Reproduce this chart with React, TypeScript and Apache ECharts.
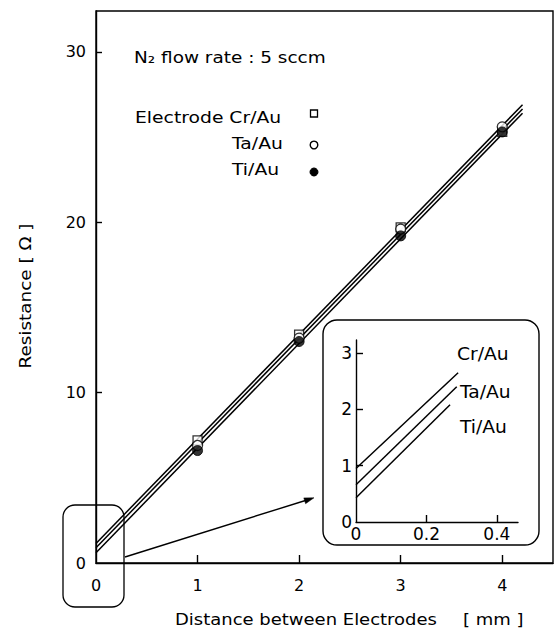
import React, { useEffect, useRef } from "react";
import * as echarts from "echarts";

const FONT = "DejaVu Sans";

// main axes
const mainXLabels = [0, 1, 2, 3, 4];
const mainXTicks = [1, 2, 3, 4];
const mainYLabels = [0, 10, 20, 30];
const mainYTicks = [10, 20, 30];

// inset axes
const insetXLabels = [0, 0.2, 0.4];
const insetXTicks = [0.2, 0.4];
const insetYLabels = [0, 1, 2, 3];
const insetYTicks = [1, 2, 3];

// measured points
const distances = [1, 2, 3, 4];
const crAu = [7.2, 13.4, 19.7, 25.3];
const taAu = [6.9, 13.2, 19.6, 25.6];
const tiAu = [6.6, 13.0, 19.2, 25.3];

// fitted lines (main)
const fitX = [0, 4.2];
const crFit = [1.15, 26.9];
const taFit = [0.9, 26.65];
const tiFit = [0.6, 26.4];

// fitted lines (inset, zoom near origin)
const insetCrX = [0, 0.29];
const insetCrY = [0.95, 2.65];
const insetTaX = [0, 0.286];
const insetTaY = [0.66, 2.4];
const insetTiX = [0, 0.267];
const insetTiY = [0.43, 2.08];

const zip = (xs: number[], ys: number[]) => xs.map((x, i) => [x, ys[i]]);

const txt = (
  text: string,
  x: number,
  y: number,
  size: number,
  sx: number,
  align = "left",
  rotation = 0
) => ({
  type: "text",
  x,
  y,
  scaleX: sx,
  rotation,
  silent: true,
  style: {
    text,
    fontSize: size,
    fontFamily: FONT,
    fill: "#000",
    align,
    textAlign: align,
    verticalAlign: "middle",
    textVerticalAlign: "middle",
  },
});

export default function App() {
  const ref = useRef<HTMLDivElement>(null);
  useEffect(() => {
    if (!ref.current) return;
    const chart = echarts.init(ref.current, undefined, { renderer: "svg" });
    const axisLine = { lineStyle: { color: "#000", width: 1.4 } };
    const lineStyle = { color: "#000", width: 1.5 };
    const fitSeries = (data: number[][], xi: number, name: string) => ({
      type: "line",
      name,
      xAxisIndex: xi,
      yAxisIndex: xi,
      data,
      symbol: "none",
      showSymbol: false,
      silent: true,
      lineStyle,
      z: 2,
    });
    const option: any = {
      animation: false,
      backgroundColor: "#fff",
      grid: [
        {
          left: 96,
          right: 2,
          top: 11,
          bottom: 70,
          show: true,
          borderColor: "#000",
          borderWidth: 1.4,
          backgroundColor: "transparent",
        },
        { left: 356, right: 37, top: 340, bottom: 111, show: false },
      ],
      xAxis: [
        {
          type: "value",
          gridIndex: 0,
          min: 0,
          max: 4.5,
          interval: 1,
          axisLine,
          splitLine: { show: false },
          axisTick: {
            inside: true,
            length: 8,
            customValues: mainXTicks,
            lineStyle: { color: "#000", width: 1.4 },
          },
          axisLabel: {
            customValues: mainXLabels,
            margin: 14,
            fontSize: 16,
            fontFamily: FONT,
            color: "#000",
          },
        },
        {
          type: "value",
          gridIndex: 1,
          min: 0,
          max: 0.46,
          interval: 0.2,
          axisLine,
          splitLine: { show: false },
          axisTick: {
            inside: true,
            length: 7,
            customValues: insetXTicks,
            lineStyle: { color: "#000", width: 1.4 },
          },
          axisLabel: {
            customValues: insetXLabels,
            margin: 3,
            fontSize: 17,
            fontFamily: FONT,
            color: "#000",
          },
        },
      ],
      yAxis: [
        {
          type: "value",
          gridIndex: 0,
          min: 0,
          max: 32.4,
          interval: 10,
          axisLine: { show: true, ...axisLine },
          splitLine: { show: false },
          axisTick: {
            show: true,
            inside: true,
            length: 6,
            customValues: mainYTicks,
            lineStyle: { color: "#000", width: 1.4 },
          },
          axisLabel: {
            customValues: mainYLabels,
            margin: 10,
            fontSize: 16,
            fontFamily: FONT,
            color: "#000",
          },
        },
        {
          type: "value",
          gridIndex: 1,
          min: 0,
          max: 3.23,
          interval: 1,
          axisLine: { show: true, ...axisLine },
          splitLine: { show: false },
          axisTick: {
            show: true,
            inside: true,
            length: 7,
            customValues: insetYTicks,
            lineStyle: { color: "#000", width: 1.4 },
          },
          axisLabel: {
            customValues: insetYLabels,
            margin: 4,
            fontSize: 17,
            fontFamily: FONT,
            color: "#000",
          },
        },
      ],
      series: [
        fitSeries(zip(fitX, crFit), 0, "Cr/Au fit"),
        fitSeries(zip(fitX, taFit), 0, "Ta/Au fit"),
        fitSeries(zip(fitX, tiFit), 0, "Ti/Au fit"),
        {
          type: "scatter",
          name: "Cr/Au",
          data: zip(distances, crAu),
          symbol: "rect",
          symbolSize: 9,
          itemStyle: { color: "#fff", borderColor: "#000", borderWidth: 1.3 },
          z: 3,
        },
        {
          type: "scatter",
          name: "Ta/Au",
          data: zip(distances, taAu),
          symbol: "circle",
          symbolSize: 10,
          itemStyle: { color: "#fff", borderColor: "#000", borderWidth: 1.3 },
          z: 4,
        },
        {
          type: "scatter",
          name: "Ti/Au",
          data: zip(distances, tiAu),
          symbol: "circle",
          symbolSize: 10,
          itemStyle: { color: "#000", borderColor: "#000", borderWidth: 1 },
          z: 5,
        },
        fitSeries(zip(insetCrX, insetCrY), 1, "Cr/Au inset"),
        fitSeries(zip(insetTaX, insetTaY), 1, "Ta/Au inset"),
        fitSeries(zip(insetTiX, insetTiY), 1, "Ti/Au inset"),
      ],
      graphic: [
        txt("N₂ flow rate : 5 sccm", 134, 58, 15, 1.23),
        txt("Electrode Cr/Au", 135, 118, 15, 1.25),
        txt("Ta/Au", 232, 144, 15, 1.25),
        txt("Ti/Au", 232, 170, 15, 1.25),
        {
          type: "rect",
          shape: { x: 310.5, y: 110, width: 7, height: 7 },
          style: { fill: "#fff", stroke: "#000", lineWidth: 1.3 },
        },
        {
          type: "circle",
          shape: { cx: 314, cy: 145, r: 3.8 },
          style: { fill: "#fff", stroke: "#000", lineWidth: 1.4 },
        },
        {
          type: "circle",
          shape: { cx: 314, cy: 172, r: 4 },
          style: { fill: "#000", stroke: "#000", lineWidth: 1 },
        },
        txt("Resistance [ Ω ]", 25, 296, 16, 1.15, "center", Math.PI / 2),
        txt("Distance between Electrodes", 175, 620, 15, 1.2),
        txt("[ mm ]", 463, 620, 15, 1.2),
        txt("Cr/Au", 457, 354, 17, 1.1),
        txt("Ta/Au", 460, 392, 17, 1.1),
        txt("Ti/Au", 460, 427, 17, 1.1),
        {
          type: "rect",
          shape: { x: 323, y: 320, width: 216, height: 225, r: 14 },
          style: { fill: "none", stroke: "#000", lineWidth: 1.4 },
        },
        {
          type: "rect",
          shape: { x: 63, y: 505, width: 61, height: 102, r: 12 },
          style: { fill: "none", stroke: "#000", lineWidth: 1.3 },
        },
        {
          type: "line",
          shape: { x1: 125, y1: 557, x2: 307, y2: 500 },
          style: { stroke: "#000", lineWidth: 1.4 },
        },
        {
          type: "polygon",
          shape: {
            points: [
              [314, 497.8],
              [305.6, 503.7],
              [303.8, 497.9],
            ],
          },
          style: { fill: "#000", stroke: "#000", lineWidth: 0.5 },
        },
      ],
    };
    chart.setOption(option);
    return () => chart.dispose();
  }, []);
  return (
    <div
      ref={ref}
      style={{ position: "absolute", left: 0, top: 0, width: 555, height: 633 }}
    />
  );
}
